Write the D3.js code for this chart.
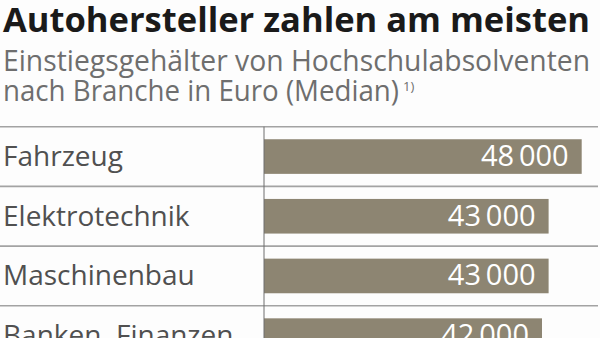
<!DOCTYPE html>
<html><head><meta charset="utf-8">
<script src="https://cdn.jsdelivr.net/npm/d3@7/dist/d3.min.js"></script>
<style>
html,body{margin:0;padding:0;background:#fdfdfd;}
svg{display:block;}
</style></head>
<body>
<svg id="c" width="600" height="338"></svg>
<script>
const title = "Autohersteller zahlen am meisten";
const subtitle1 = "Einstiegsgehälter von Hochschulabsolventen";
const subtitle2 = "nach Branche in Euro (Median)";
const footnoteMark = "1)";
const categories = ["Fahrzeug", "Elektrotechnik", "Maschinenbau", "Banken, Finanzen"];
const values = [48000, 43000, 43000, 42000];

const svg = d3.select("#c");
const font = "'Open Sans', 'Noto Sans', sans-serif";

svg.append("text").attr("x", 3).attr("y", 32)
  .attr("font-family", font).attr("font-weight", 700).attr("font-size", 34)
  .attr("fill", "#1a1a1a").attr("textLength", 587).attr("lengthAdjust", "spacingAndGlyphs")
  .text(title);
svg.append("text").attr("x", 3).attr("y", 71)
  .attr("font-family", font).attr("font-size", 29)
  .attr("fill", "#6e6e6e").attr("textLength", 587).attr("lengthAdjust", "spacingAndGlyphs")
  .text(subtitle1);
svg.append("text").attr("x", 3).attr("y", 101)
  .attr("font-family", font).attr("font-size", 29)
  .attr("fill", "#6e6e6e").attr("textLength", 396).attr("lengthAdjust", "spacingAndGlyphs")
  .text(subtitle2);
svg.append("text").attr("x", 403).attr("y", 91)
  .attr("font-family", font).attr("font-size", 13)
  .attr("fill", "#6e6e6e").text(footnoteMark);

const x = d3.scaleLinear().domain([0, 48000]).range([264, 581.7]);
const y = d3.scaleBand().domain(categories).range([126.7, 126.7 + 4 * 59.7])
  .paddingInner(0.42).paddingOuter(0.21);
const fmt = d3.formatLocale({decimal: ",", thousands: "\u2009", grouping: [3], currency: ["", "€"]}).format(",d");

const data = categories.map((c, i) => ({c, v: values[i]}));

// separators
const seps = categories.map(c => y(c) - y.step() * 0.21);
seps.push(y(categories[categories.length - 1]) - y.step() * 0.21 + y.step());
svg.selectAll("line.sep").data(seps).join("line").attr("class", "sep")
  .attr("x1", 0).attr("x2", 598).attr("y1", d => d).attr("y2", d => d)
  .attr("stroke", "#a3a3a3").attr("stroke-width", 1.6);

svg.selectAll("rect.bar").data(data).join("rect").attr("class", "bar")
  .attr("x", x(0)).attr("y", d => y(d.c))
  .attr("width", d => x(d.v) - x(0)).attr("height", y.bandwidth())
  .attr("fill", "#8d8572");

svg.append("line").attr("x1", x(0)).attr("x2", x(0))
  .attr("y1", seps[0]).attr("y2", 338)
  .attr("stroke", "#6e6e6e").attr("stroke-width", 1);

svg.selectAll("text.cat").data(data).join("text").attr("class", "cat")
  .attr("x", 3).attr("y", d => y(d.c) + y.bandwidth() / 2 + 9.5)
  .attr("font-family", font).attr("font-size", 28).attr("fill", "#505050")
  .text(d => d.c);

svg.selectAll("text.val").data(data).join("text").attr("class", "val")
  .attr("x", d => x(d.v) - 13).attr("y", d => y(d.c) + y.bandwidth() / 2 + 9.5)
  .attr("text-anchor", "end")
  .attr("font-family", font).attr("font-size", 29).attr("fill", "#ffffff")
  .text(d => fmt(d.v));
</script>
</body></html>
